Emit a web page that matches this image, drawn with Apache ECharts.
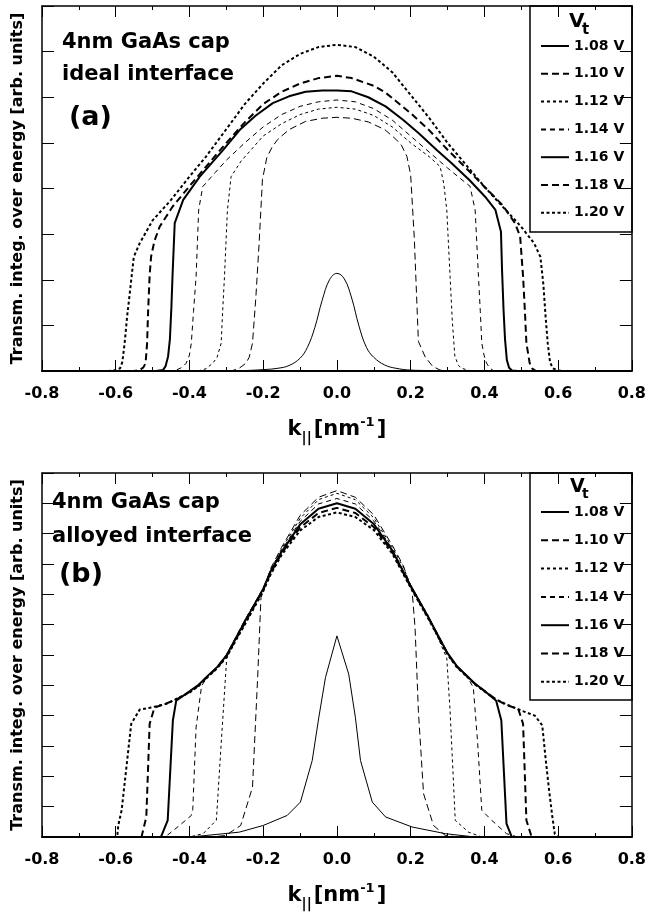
<!DOCTYPE html>
<html lang="en">
<head>
<meta charset="UTF-8">
<title>Transmission integrated over energy</title>
<style>
  html, body { margin: 0; padding: 0; background: #fff; }
  #chart { width: 649px; height: 912px; }
</style>
</head>
<body>
<div id="chart"></div>
<script src="https://cdn.jsdelivr.net/npm/echarts@6/dist/echarts.min.js"></script>
<script>
// legend names
var voltages = ['1.08 V', '1.10 V', '1.12 V', '1.14 V', '1.16 V', '1.18 V', '1.20 V'];

// x axis k|| [nm^-1]
var xMin = -0.8, xMax = 0.8, xStep = 0.2;
// y axis (arb. units, unlabeled ticks)
var yMaxA = 8, yMaxB = 12;

// (a) ideal interface, [k, T]
var a108 = [[-0.8,0],[-0.3,0],[-0.25,0.01],[-0.2,0.03],[-0.16,0.06],[-0.13,0.12],[-0.1,0.28],[-0.08,0.52],[-0.06,0.95],[-0.04,1.55],[-0.02,2.0],[0,2.14],[0.02,2.02],[0.04,1.6],[0.06,0.98],[0.08,0.52],[0.1,0.3],[0.13,0.13],[0.16,0.06],[0.2,0.02],[0.25,0.01],[0.3,0],[0.8,0]];
var a110 = [[-0.8,0],[-0.3,0],[-0.283,0.01],[-0.265,0.06],[-0.247,0.17],[-0.238,0.3],[-0.229,0.61],[-0.22,1.6],[-0.211,2.8],[-0.202,4.2],[-0.19,4.68],[-0.175,4.92],[-0.16,5.08],[-0.13,5.29],[-0.085,5.47],[-0.04,5.54],[0,5.56],[0.04,5.54],[0.085,5.46],[0.13,5.29],[0.16,5.08],[0.175,4.95],[0.19,4.7],[0.2,4.3],[0.21,2.9],[0.221,0.65],[0.24,0.3],[0.26,0.1],[0.28,0.02],[0.3,0],[0.8,0]];
var a112 = [[-0.8,0],[-0.38,0],[-0.373,0.01],[-0.355,0.05],[-0.337,0.17],[-0.325,0.3],[-0.314,0.61],[-0.31,1.3],[-0.305,2.07],[-0.297,3.53],[-0.287,4.26],[-0.26,4.6],[-0.2,5.15],[-0.15,5.42],[-0.1,5.62],[-0.05,5.74],[0,5.78],[0.05,5.74],[0.1,5.6],[0.15,5.35],[0.2,5.0],[0.25,4.7],[0.28,4.48],[0.29,4.1],[0.298,3.53],[0.307,2.07],[0.313,1.1],[0.32,0.32],[0.33,0.12],[0.338,0.06],[0.36,0.01],[0.37,0],[0.8,0]];
var a114 = [[-0.8,0],[-0.45,0],[-0.436,0.02],[-0.42,0.08],[-0.409,0.17],[-0.4,0.35],[-0.395,0.61],[-0.389,1.3],[-0.382,2.07],[-0.375,3.53],[-0.364,4.04],[-0.33,4.35],[-0.3,4.62],[-0.25,5.0],[-0.2,5.35],[-0.15,5.62],[-0.1,5.8],[-0.05,5.9],[0,5.94],[0.05,5.9],[0.1,5.75],[0.15,5.5],[0.2,5.15],[0.25,4.8],[0.3,4.45],[0.33,4.25],[0.361,4.05],[0.375,3.53],[0.384,2.07],[0.389,1.3],[0.393,0.61],[0.399,0.35],[0.406,0.17],[0.415,0.06],[0.424,0.01],[0.44,0],[0.8,0]];
var a116 = [[-0.8,0],[-0.49,0],[-0.472,0.02],[-0.465,0.1],[-0.458,0.32],[-0.453,0.7],[-0.449,1.4],[-0.446,2.07],[-0.44,3.24],[-0.417,3.75],[-0.372,4.26],[-0.309,4.84],[-0.264,5.28],[-0.22,5.6],[-0.174,5.87],[-0.13,6.02],[-0.085,6.12],[-0.04,6.15],[0,6.15],[0.04,6.13],[0.085,6.0],[0.132,5.8],[0.18,5.5],[0.222,5.21],[0.27,4.85],[0.312,4.55],[0.36,4.18],[0.402,3.82],[0.43,3.53],[0.445,3.05],[0.448,2.2],[0.452,1.34],[0.456,0.7],[0.461,0.24],[0.467,0.07],[0.475,0.01],[0.49,0],[0.8,0]];
var a118 = [[-0.8,0],[-0.55,0],[-0.535,0.02],[-0.525,0.08],[-0.519,0.17],[-0.515,0.6],[-0.512,1.34],[-0.508,2.1],[-0.504,2.51],[-0.495,2.85],[-0.481,3.16],[-0.446,3.6],[-0.4,4.05],[-0.355,4.48],[-0.3,5.0],[-0.25,5.45],[-0.2,5.85],[-0.15,6.12],[-0.1,6.3],[-0.05,6.42],[0,6.47],[0.04,6.42],[0.1,6.25],[0.132,6.1],[0.2,5.65],[0.25,5.28],[0.3,4.85],[0.35,4.45],[0.4,4.04],[0.45,3.63],[0.483,3.24],[0.497,2.95],[0.505,2.07],[0.51,1.3],[0.514,0.61],[0.523,0.17],[0.53,0.05],[0.54,0],[0.8,0]];
var a120 = [[-0.8,0],[-0.62,0],[-0.6,0.02],[-0.588,0.06],[-0.582,0.2],[-0.576,0.6],[-0.569,1.2],[-0.562,1.7],[-0.551,2.5],[-0.535,2.8],[-0.5,3.3],[-0.45,3.75],[-0.4,4.26],[-0.355,4.7],[-0.3,5.3],[-0.25,5.85],[-0.2,6.3],[-0.15,6.7],[-0.1,6.95],[-0.05,7.1],[0,7.15],[0.05,7.1],[0.1,6.89],[0.15,6.55],[0.2,6.05],[0.25,5.55],[0.3,5.0],[0.35,4.52],[0.4,4.04],[0.45,3.6],[0.5,3.16],[0.535,2.8],[0.552,2.5],[0.56,1.9],[0.566,1.2],[0.572,0.6],[0.578,0.2],[0.585,0.06],[0.6,0.01],[0.62,0],[0.8,0]];

// (b) alloyed interface, [k, T]
var b108 = [[-0.8,0],[-0.4,0],[-0.355,0.05],[-0.265,0.16],[-0.2,0.38],[-0.135,0.71],[-0.099,1.15],[-0.067,2.52],[-0.049,3.95],[-0.031,5.26],[0,6.63],[0.032,5.37],[0.05,3.95],[0.064,2.52],[0.096,1.15],[0.132,0.66],[0.204,0.33],[0.294,0.11],[0.375,0],[0.8,0]];
var b110 = [[-0.8,0],[-0.34,0],[-0.302,0.05],[-0.261,0.38],[-0.229,1.64],[-0.215,5.26],[-0.206,7.89],[-0.18,8.85],[-0.15,9.55],[-0.1,10.6],[-0.05,11.2],[0,11.42],[0.05,11.2],[0.1,10.62],[0.15,9.62],[0.18,8.95],[0.204,8.11],[0.212,6.9],[0.221,4.16],[0.235,1.43],[0.262,0.38],[0.294,0.05],[0.33,0],[0.8,0]];
var b112 = [[-0.8,0],[-0.4,0],[-0.363,0.11],[-0.327,0.55],[-0.314,3.07],[-0.299,5.88],[-0.25,7.15],[-0.2,8.15],[-0.18,8.8],[-0.15,9.5],[-0.1,10.5],[-0.05,11.12],[0,11.33],[0.05,11.12],[0.1,10.52],[0.15,9.55],[0.18,8.9],[0.2,8.3],[0.25,7.25],[0.298,5.9],[0.307,4.16],[0.321,0.55],[0.357,0.16],[0.393,0],[0.8,0]];
var b114 = [[-0.8,0],[-0.47,0],[-0.463,0.03],[-0.43,0.35],[-0.395,0.71],[-0.391,0.9],[-0.382,3.62],[-0.367,4.99],[-0.35,5.3],[-0.325,5.62],[-0.3,6.0],[-0.25,7.15],[-0.2,8.2],[-0.18,8.78],[-0.15,9.45],[-0.1,10.4],[-0.05,10.98],[0,11.16],[0.05,10.98],[0.1,10.42],[0.15,9.5],[0.2,8.3],[0.25,7.22],[0.3,6.08],[0.325,5.65],[0.35,5.35],[0.37,4.93],[0.382,3.07],[0.393,0.88],[0.42,0.55],[0.46,0.11],[0.49,0],[0.8,0]];
var b116 = [[-0.8,0],[-0.49,0],[-0.477,0.01],[-0.459,0.55],[-0.445,3.84],[-0.436,4.49],[-0.4,4.8],[-0.375,5.02],[-0.35,5.32],[-0.325,5.6],[-0.3,5.98],[-0.25,7.1],[-0.2,8.18],[-0.18,8.75],[-0.15,9.4],[-0.1,10.3],[-0.05,10.82],[0,11.0],[0.05,10.82],[0.1,10.32],[0.15,9.45],[0.2,8.28],[0.25,7.2],[0.3,6.06],[0.325,5.64],[0.35,5.34],[0.375,5.05],[0.4,4.82],[0.432,4.49],[0.446,3.84],[0.46,0.44],[0.474,0.01],[0.49,0],[0.8,0]];
var b118 = [[-0.8,0],[-0.54,0],[-0.53,0.01],[-0.517,0.66],[-0.508,3.73],[-0.495,4.27],[-0.463,4.4],[-0.436,4.53],[-0.4,4.78],[-0.375,5.0],[-0.35,5.3],[-0.325,5.58],[-0.3,5.95],[-0.25,7.05],[-0.2,8.15],[-0.18,8.7],[-0.15,9.35],[-0.1,10.2],[-0.05,10.68],[0,10.85],[0.05,10.68],[0.1,10.22],[0.15,9.4],[0.2,8.25],[0.25,7.18],[0.3,6.04],[0.325,5.62],[0.35,5.33],[0.375,5.04],[0.4,4.82],[0.43,4.55],[0.46,4.35],[0.492,4.22],[0.505,3.73],[0.514,0.55],[0.528,0.01],[0.54,0],[0.8,0]];
var b120 = [[-0.8,0],[-0.61,0],[-0.596,0.01],[-0.593,0.39],[-0.584,0.88],[-0.569,2.52],[-0.558,3.73],[-0.535,4.2],[-0.5,4.28],[-0.463,4.39],[-0.436,4.55],[-0.4,4.76],[-0.375,4.98],[-0.35,5.28],[-0.325,5.56],[-0.3,5.92],[-0.25,7.0],[-0.2,8.1],[-0.18,8.65],[-0.15,9.3],[-0.1,10.1],[-0.05,10.55],[0,10.7],[0.05,10.55],[0.1,10.12],[0.15,9.35],[0.2,8.22],[0.25,7.15],[0.3,6.02],[0.325,5.6],[0.35,5.32],[0.375,5.03],[0.4,4.8],[0.43,4.55],[0.46,4.37],[0.5,4.17],[0.537,4.0],[0.557,3.68],[0.566,2.6],[0.575,1.6],[0.584,0.7],[0.591,0.1],[0.6,0],[0.8,0]];

var curvesA = [a108, a110, a112, a114, a116, a118, a120];
var curvesB = [b108, b110, b112, b114, b116, b118, b120];

// line styles per voltage
var styles = [
  {width: 1, type: 'solid'},
  {width: 1, type: [7, 4]},
  {width: 1, type: [3, 3]},
  {width: 1, type: [5, 4]},
  {width: 2, type: 'solid'},
  {width: 2, type: [7, 4]},
  {width: 2, type: [3, 2.5]}
];

var FONT = 'DejaVu Sans';
var chart = echarts.init(document.getElementById('chart'));

function xAxes(gi) {
  var tick = {inside: true, length: 11, lineStyle: {color: '#000', width: 1}};
  var minor = {show: true, splitNumber: 2, length: 4, lineStyle: {color: '#000', width: 1}};
  return [{
    gridIndex: gi, type: 'value', position: 'bottom', min: xMin, max: xMax, interval: xStep,
    axisLine: {show: true, onZero: false, lineStyle: {color: '#000', width: 2}},
    axisTick: tick, minorTick: minor,
    splitLine: {show: false}, minorSplitLine: {show: false},
    axisLabel: {
      color: '#000', fontFamily: FONT, fontWeight: 'bold', fontSize: 16, margin: 15,
      formatter: function (v) { return (Math.abs(v) < 1e-9 ? 0 : v).toFixed(1); }
    },
    name: '{k|k}{s|||}{n|[nm}{p|-1}{n|]}',
    nameLocation: 'middle', nameGap: 44,
    nameTextStyle: {
      color: '#000', fontFamily: FONT, fontWeight: 'bold',
      rich: {
        k: {fontSize: 21, fontFamily: FONT, fontWeight: 'bold', color: '#000'},
        n: {fontSize: 21, fontFamily: FONT, fontWeight: 'bold', color: '#000', padding: [0, 0, 0, 2]},
        s: {fontSize: 14, fontFamily: FONT, fontWeight: 'bold', color: '#000', padding: [16, 0, 0, 0]},
        p: {fontSize: 13, fontFamily: FONT, fontWeight: 'bold', color: '#000', padding: [0, 0, 14, 0]}
      }
    }
  }, {
    gridIndex: gi, type: 'value', position: 'top', min: xMin, max: xMax, interval: xStep,
    axisLine: {show: true, onZero: false, lineStyle: {color: '#000', width: 1.5}},
    axisTick: tick, minorTick: minor,
    splitLine: {show: false}, minorSplitLine: {show: false},
    axisLabel: {show: false}
  }];
}

function yAxes(gi, yMax) {
  var tick = {inside: true, length: 12, lineStyle: {color: '#000', width: 1}};
  return [{
    gridIndex: gi, type: 'value', position: 'left', min: 0, max: yMax, interval: 1,
    axisLine: {show: true, onZero: false, lineStyle: {color: '#000', width: 1.5}},
    axisTick: tick, splitLine: {show: false}, axisLabel: {show: false},
    name: 'Transm. integ. over energy [arb. units]',
    nameLocation: 'middle', nameGap: 16, nameRotate: 90,
    nameTextStyle: {color: '#000', fontFamily: FONT, fontWeight: 'bold', fontSize: 16}
  }, {
    gridIndex: gi, type: 'value', position: 'right', min: 0, max: yMax, interval: 1,
    axisLine: {show: true, onZero: false, lineStyle: {color: '#000', width: 1.5}},
    axisTick: tick, splitLine: {show: false}, axisLabel: {show: false}
  }];
}

var series = [];
[curvesA, curvesB].forEach(function (curves, gi) {
  curves.forEach(function (d, i) {
    series.push({
      type: 'line', name: voltages[i], data: d,
      xAxisIndex: gi * 2, yAxisIndex: gi * 2,
      symbol: 'none', smooth: (gi === 0 && i === 0) ? 0.4 : false,
      lineStyle: {color: '#000', width: styles[i].width, type: styles[i].type},
      itemStyle: {color: '#000'}
    });
  });
});

function legendAt(top, gap) {
  return {
    orient: 'vertical', left: 540, top: top, itemWidth: 28, itemHeight: 14, itemGap: gap,
    data: voltages, selectedMode: false, padding: 0,
    itemStyle: {opacity: 0, borderWidth: 0},
    textStyle: {color: '#000', fontFamily: FONT, fontWeight: 'bold', fontSize: 14}
  };
}

function label(text, x, y, size) {
  return {
    type: 'text', x: x, y: y, z: 10,
    style: {text: text, font: 'bold ' + size + 'px "' + FONT + '"', fill: '#000', verticalAlign: 'middle'}
  };
}

var option = {
  animation: false,
  backgroundColor: '#fff',
  grid: [
    {left: 42, right: 15, top: 6, height: 365},
    {left: 42, right: 15, top: 473, height: 364}
  ],
  xAxis: xAxes(0).concat(xAxes(1)),
  yAxis: yAxes(0, yMaxA).concat(yAxes(1, yMaxB)),
  legend: [legendAt(39, 13.8), legendAt(505, 14.3)],
  series: series,
  graphic: [
    label('4nm GaAs cap', 62, 43, 21),
    label('ideal interface', 62, 75, 21),
    label('(a)', 69, 118, 27),
    label('4nm GaAs cap', 52, 503, 21),
    label('alloyed interface', 52, 537, 21),
    label('(b)', 59, 575, 27),
    {type: 'rect', z: 3, shape: {x: 530, y: 6, width: 102, height: 226},
      style: {fill: 'none', stroke: '#000', lineWidth: 1.5}},
    {type: 'rect', z: 3, shape: {x: 530, y: 473, width: 102, height: 227},
      style: {fill: 'none', stroke: '#000', lineWidth: 1.5}},
    label('V', 569, 22, 20),
    label('t', 582, 30, 15),
    label('V', 570, 487, 19),
    label('t', 582, 494, 14)
  ]
};

chart.setOption(option);
</script>
</body>
</html>
